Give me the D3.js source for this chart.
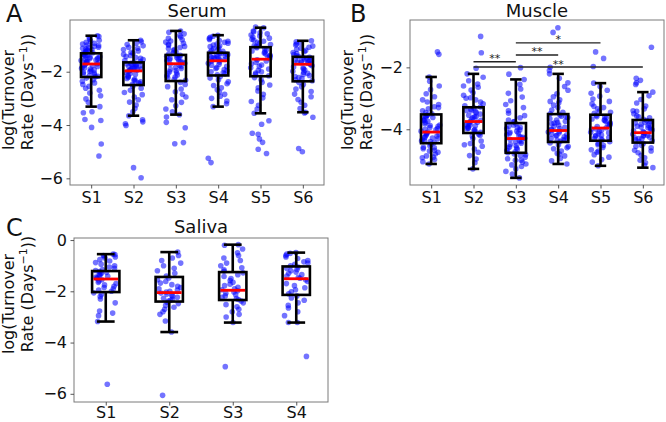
<!DOCTYPE html>
<html>
<head>
<meta charset="utf-8">
<script src="https://cdn.jsdelivr.net/npm/d3@7"></script>
<style>
  body { margin: 0; background: #fff; }
  svg { display: block; font-family: "DejaVu Sans", sans-serif; }
</style>
</head>
<body>
<script>
const width = 666;
const height = 422;

// ---------- Serum (A)
const serumCats = ["S1", "S2", "S3", "S4", "S5", "S6"];
const serumLo  = [-3.31, -3.65, -3.61, -3.31, -3.56, -3.52];
const serumQ1  = [-2.20, -2.50, -2.35, -2.14, -2.17, -2.36];
const serumMed = [-1.71, -1.97, -1.70, -1.59, -1.53, -1.72];
const serumQ3  = [-1.31, -1.65, -1.37, -1.29, -1.08, -1.44];
const serumHi  = [-0.65, -0.82, -0.47, -0.63, -0.35, -0.84];
const serumPts = [
  [-0.65,-0.68,-0.72,-0.78,-0.82,-0.86,-0.9,-0.93,-0.96,-1.0,-1.02,-1.05,-1.08,-1.1,-1.12,-1.15,-1.17,-1.2,-1.22,-1.25,-1.27,-1.29,
   -1.32,-1.34,-1.36,-1.38,-1.4,-1.42,-1.44,-1.46,-1.48,-1.5,-1.52,-1.54,-1.56,-1.58,-1.6,-1.62,-1.64,-1.66,-1.68,-1.7,
   -1.73,-1.76,-1.78,-1.8,-1.83,-1.86,-1.88,-1.9,-1.93,-1.96,-1.99,-2.02,-2.05,-2.08,-2.11,-2.14,-2.17,-2.19,
   -2.24,-2.3,-2.36,-2.42,-2.48,-2.55,-2.62,-2.7,-2.8,-2.9,-3.02,-3.15,-3.31,-3.5,-3.54,-3.79,-3.83,-4.09,-4.71,-5.16],
  [-0.82,-0.88,-0.93,-0.98,-1.03,-1.08,-1.12,-1.17,-1.22,-1.27,-1.31,-1.35,-1.39,-1.43,-1.47,-1.5,-1.54,-1.58,-1.62,
   -1.66,-1.68,-1.7,-1.72,-1.74,-1.76,-1.78,-1.8,-1.82,-1.84,-1.86,-1.88,-1.9,-1.92,-1.94,-1.96,
   -1.99,-2.03,-2.07,-2.1,-2.14,-2.18,-2.21,-2.25,-2.28,-2.32,-2.35,-2.38,-2.42,-2.45,-2.48,
   -2.55,-2.62,-2.7,-2.78,-2.86,-2.95,-3.05,-3.14,-3.25,-3.38,-3.5,-3.65,-3.8,-3.88,-3.95,-4.02,-5.6,-5.98],
  [-0.47,-0.52,-0.58,-0.64,-0.7,-0.75,-0.8,-0.85,-0.89,-0.93,-0.97,-1.01,-1.05,-1.09,-1.13,-1.17,-1.21,-1.25,-1.29,-1.33,
   -1.38,-1.4,-1.42,-1.45,-1.47,-1.5,-1.52,-1.55,-1.57,-1.6,-1.62,-1.65,-1.68,
   -1.72,-1.76,-1.8,-1.84,-1.88,-1.92,-1.96,-2.0,-2.04,-2.08,-2.12,-2.16,-2.2,-2.24,-2.28,-2.32,
   -2.4,-2.48,-2.56,-2.65,-2.75,-2.85,-2.95,-3.05,-3.15,-3.28,-3.4,-3.5,-3.61,-3.7,-3.9,-4.1,-4.66,-4.7],
  [-0.63,-0.67,-0.71,-0.75,-0.79,-0.83,-0.86,-0.9,-0.93,-0.96,-1.0,-1.03,-1.06,-1.1,-1.13,-1.16,-1.2,-1.23,-1.26,
   -1.3,-1.32,-1.34,-1.36,-1.38,-1.4,-1.42,-1.44,-1.46,-1.48,-1.5,-1.52,-1.54,-1.56,-1.58,
   -1.61,-1.64,-1.68,-1.72,-1.76,-1.8,-1.84,-1.88,-1.92,-1.96,-2.0,-2.04,-2.08,-2.12,
   -2.18,-2.24,-2.3,-2.38,-2.45,-2.52,-2.6,-2.68,-2.76,-2.85,-2.92,-3.0,-3.1,-3.2,-3.31,-5.25,-5.41],
  [-0.32,-0.35,-0.47,-0.5,-0.54,-0.58,-0.62,-0.66,-0.7,-0.74,-0.78,-0.82,-0.86,-0.9,-0.94,-0.98,-1.02,-1.06,
   -1.1,-1.14,-1.18,-1.22,-1.26,-1.3,-1.34,-1.38,-1.42,-1.46,-1.5,
   -1.55,-1.6,-1.65,-1.7,-1.75,-1.8,-1.85,-1.9,-1.95,-2.0,-2.05,-2.1,-2.15,
   -2.22,-2.3,-2.4,-2.5,-2.6,-2.72,-2.85,-2.98,-3.12,-3.26,-3.4,-3.56,-3.84,-3.97,-4.31,-4.35,-4.52,-4.65,-4.91,-5.07],
  [-0.84,-0.88,-0.92,-0.96,-1.0,-1.04,-1.08,-1.12,-1.16,-1.2,-1.24,-1.28,-1.32,-1.36,-1.4,-1.43,
   -1.46,-1.48,-1.5,-1.52,-1.54,-1.56,-1.58,-1.6,-1.62,-1.64,-1.66,-1.68,-1.7,
   -1.74,-1.78,-1.82,-1.86,-1.9,-1.94,-1.98,-2.02,-2.06,-2.1,-2.14,-2.18,-2.22,-2.26,-2.3,-2.34,
   -2.4,-2.48,-2.56,-2.65,-2.74,-2.84,-2.94,-3.04,-3.15,-3.26,-3.38,-3.52,-3.55,-3.71,-4.88,-5.0]
];

// ---------- Muscle (B)
const muscleCats = ["S1", "S2", "S3", "S4", "S5", "S6"];
const muscleLo  = [-5.12, -5.28, -5.57, -5.12, -5.18, -5.24];
const muscleQ1  = [-4.45, -4.12, -4.76, -4.41, -4.37, -4.43];
const muscleMed = [-4.09, -3.75, -4.30, -4.04, -3.96, -4.11];
const muscleQ3  = [-3.52, -3.29, -3.80, -3.51, -3.53, -3.70];
const muscleHi  = [-2.31, -2.21, -2.39, -2.21, -2.51, -2.80];
const musclePts = [
  [-1.5,-1.58,-2.31,-2.45,-2.6,-2.72,-2.85,-2.95,-3.05,-3.12,-3.2,-3.27,-3.3,-3.34,-3.4,-3.46,-3.5,
   -3.54,-3.55,-3.58,-3.6,-3.62,-3.66,-3.7,-3.72,-3.74,-3.78,-3.82,-3.86,-3.88,-3.9,-3.94,-3.98,-4.0,-4.02,-4.06,
   -4.1,-4.13,-4.15,-4.16,-4.19,-4.22,-4.25,-4.27,-4.28,-4.31,-4.34,-4.37,-4.38,-4.4,-4.43,
   -4.48,-4.53,-4.58,-4.6,-4.63,-4.68,-4.7,-4.74,-4.8,-4.86,-4.9,-4.92,-4.98,-5.05,-5.12],
  [-1.0,-1.53,-2.03,-2.21,-2.32,-2.43,-2.54,-2.6,-2.64,-2.73,-2.82,-2.9,-2.98,-3.0,-3.05,-3.12,-3.18,-3.24,-3.28,
   -3.31,-3.35,-3.39,-3.4,-3.43,-3.47,-3.51,-3.55,-3.59,-3.6,-3.63,-3.67,-3.71,-3.74,
   -3.77,-3.8,-3.83,-3.85,-3.86,-3.89,-3.92,-3.95,-3.97,-3.98,-4.01,-4.04,-4.07,-4.1,
   -4.16,-4.2,-4.22,-4.3,-4.38,-4.46,-4.5,-4.55,-4.64,-4.74,-4.85,-4.96,-5.08,-5.28],
  [-2.01,-2.22,-2.39,-2.55,-2.7,-2.84,-2.96,-3.08,-3.2,-3.3,-3.4,-3.48,-3.56,-3.63,-3.7,-3.75,-3.76,
   -3.82,-3.86,-3.9,-3.94,-3.95,-3.98,-4.02,-4.06,-4.1,-4.12,-4.14,-4.18,-4.22,-4.25,-4.26,-4.29,
   -4.33,-4.37,-4.4,-4.41,-4.45,-4.49,-4.53,-4.57,-4.6,-4.61,-4.65,-4.69,-4.73,-4.76,
   -4.8,-4.82,-4.85,-4.9,-4.95,-5.0,-5.0,-5.06,-5.12,-5.15,-5.2,-5.28,-5.36,-5.45,-5.57],
  [-0.72,-0.87,-2.0,-2.1,-2.21,-2.35,-2.5,-2.62,-2.74,-2.85,-2.95,-3.05,-3.1,-3.14,-3.22,-3.3,-3.38,-3.45,-3.5,
   -3.54,-3.58,-3.6,-3.62,-3.66,-3.7,-3.74,-3.78,-3.8,-3.82,-3.86,-3.9,-3.94,-3.98,-4.0,-4.02,
   -4.06,-4.09,-4.12,-4.15,-4.18,-4.2,-4.21,-4.24,-4.27,-4.3,-4.33,-4.35,-4.36,-4.39,
   -4.44,-4.5,-4.56,-4.6,-4.63,-4.7,-4.78,-4.8,-4.86,-4.94,-5.02,-5.12],
  [-1.5,-1.71,-1.97,-2.51,-2.62,-2.74,-2.84,-2.93,-3.02,-3.1,-3.18,-3.26,-3.3,-3.34,-3.41,-3.45,-3.48,
   -3.55,-3.59,-3.6,-3.63,-3.67,-3.7,-3.71,-3.75,-3.79,-3.83,-3.85,-3.87,-3.91,-3.95,
   -3.99,-4.0,-4.03,-4.07,-4.1,-4.11,-4.15,-4.19,-4.2,-4.23,-4.27,-4.3,-4.31,-4.35,
   -4.4,-4.46,-4.5,-4.52,-4.59,-4.66,-4.7,-4.74,-4.82,-4.9,-4.98,-5.06,-5.18],
  [-1.35,-2.35,-2.42,-2.5,-2.55,-2.8,-2.92,-3.04,-3.15,-3.25,-3.34,-3.4,-3.42,-3.5,-3.57,-3.6,-3.63,-3.68,
   -3.72,-3.75,-3.78,-3.8,-3.81,-3.84,-3.87,-3.9,-3.93,-3.95,-3.96,-3.99,-4.02,-4.05,-4.08,
   -4.1,-4.13,-4.16,-4.19,-4.2,-4.22,-4.25,-4.28,-4.3,-4.31,-4.34,-4.37,-4.4,
   -4.46,-4.52,-4.55,-4.6,-4.68,-4.7,-4.76,-4.84,-4.92,-5.0,-5.08,-5.16,-5.24]
];
// significance brackets (Muscle)
const sigFrom  = [2, 3, 3, 2];
const sigTo    = [3, 4, 5, 6];
const sigLevel = [-1.82, -1.60, -1.21, -1.99];
const sigText  = ["**", "**", "*", "**"];

// ---------- Saliva (C)
const salivaCats = ["S1", "S2", "S3", "S4"];
const salivaLo  = [-3.18, -3.59, -3.22, -3.22];
const salivaQ1  = [-2.03, -2.40, -2.34, -2.14];
const salivaMed = [-1.52, -2.05, -1.96, -1.51];
const salivaQ3  = [-1.21, -1.44, -1.25, -1.03];
const salivaHi  = [-0.55, -0.47, -0.18, -0.49];
const salivaPts = [
  [-0.55,-0.57,-0.6,-0.62,-0.66,-0.7,-0.76,-0.82,-0.88,-0.94,-1.0,-1.05,-1.1,-1.15,-1.19,
   -1.23,-1.26,-1.29,-1.32,-1.35,-1.38,-1.41,-1.44,-1.47,-1.5,
   -1.55,-1.6,-1.65,-1.7,-1.75,-1.8,-1.85,-1.9,-1.95,-2.0,
   -2.06,-2.12,-2.2,-2.3,-2.45,-2.77,-2.85,-2.95,-3.18,-5.63],
  [-0.47,-0.6,-0.7,-0.8,-0.9,-1.0,-1.1,-1.2,-1.3,-1.4,
   -1.48,-1.55,-1.62,-1.68,-1.74,-1.8,-1.85,-1.9,-1.95,-2.0,-2.03,
   -2.07,-2.11,-2.15,-2.19,-2.23,-2.27,-2.31,-2.35,-2.38,
   -2.43,-2.48,-2.55,-2.62,-2.7,-2.8,-2.9,-3.16,-3.59,-6.06],
  [-0.18,-0.2,-0.35,-0.5,-0.6,-0.7,-0.8,-0.9,-1.0,-1.08,-1.16,-1.22,
   -1.28,-1.35,-1.42,-1.5,-1.58,-1.65,-1.72,-1.78,-1.84,-1.9,-1.94,
   -1.98,-2.03,-2.08,-2.13,-2.18,-2.23,-2.28,-2.32,
   -2.38,-2.45,-2.52,-2.6,-2.7,-2.8,-2.9,-3.0,-3.22,-4.94],
  [-0.49,-0.52,-0.55,-0.6,-0.66,-0.72,-0.8,-0.85,-0.9,-0.95,-1.0,
   -1.05,-1.1,-1.15,-1.2,-1.25,-1.3,-1.35,-1.4,-1.45,-1.49,
   -1.55,-1.62,-1.7,-1.78,-1.86,-1.94,-2.02,-2.1,
   -2.18,-2.26,-2.35,-2.45,-2.55,-2.65,-2.8,-2.95,-3.22,-3.22,-4.54]
];

const panels = [
  { letter: "A", title: "Serum", cats: serumCats, pts: serumPts,
    lo: serumLo, q1: serumQ1, med: serumMed, q3: serumQ3, hi: serumHi,
    left: 70, right: 324, top: 20, bottom: 185, yDomain: [-6.25, -0.06], yTicks: [-6, -4, -2],
    boxW: 0.48, capW: 0.27, jitter: 0.24, letterX: 6, letterY: 21.5, titleY: 16.8, xPad: 3.5,
    labelX: [14, 33], labelY: [100, 92] },
  { letter: "B", title: "Muscle", cats: muscleCats, pts: musclePts,
    lo: muscleLo, q1: muscleQ1, med: muscleMed, q3: muscleQ3, hi: muscleHi,
    left: 410, right: 664, top: 20, bottom: 185, yDomain: [-5.8, -0.47], yTicks: [-4, -2],
    boxW: 0.48, capW: 0.27, jitter: 0.24, letterX: 350, letterY: 21.5, titleY: 16.8, xPad: 3.5,
    labelX: [353, 372], labelY: [100, 92], sig: true },
  { letter: "C", title: "Saliva", cats: salivaCats, pts: salivaPts,
    lo: salivaLo, q1: salivaQ1, med: salivaMed, q3: salivaQ3, hi: salivaHi,
    left: 74, right: 328, top: 238, bottom: 402, yDomain: [-6.32, 0.08], yTicks: [-6, -4, -2, 0],
    boxW: 0.43, capW: 0.28, jitter: 0.19, letterX: 6, letterY: 236, titleY: 233, xPad: 1.5,
    labelX: [14, 33], labelY: [304, 294] }
];

const svg = d3.select("body").append("svg")
  .attr("width", width)
  .attr("height", height);

// fixed-seed hash for the horizontal spread of the dots
function spread(i, gi) {
  const s = Math.sin(i * 12.9898 + gi * 78.233 + 1.7) * 43758.5453;
  return s - Math.floor(s) - 0.5;
}

function drawPanel(p) {
  const n = p.cats.length;
  const x = d3.scaleLinear().domain([0.5, n + 0.5]).range([p.left, p.right]);
  const y = d3.scaleLinear().domain(p.yDomain).range([p.bottom, p.top]);
  const g = svg.append("g");

  // jittered points
  p.pts.forEach((vals, gi) => {
    g.append("g").selectAll("circle")
      .data(vals)
      .enter().append("circle")
        .attr("cx", (d, i) => x(gi + 1 + spread(i, gi) * 2 * p.jitter))
        .attr("cy", d => y(d))
        .attr("r", 2.8)
        .attr("fill", "blue")
        .attr("opacity", 0.55);
  });

  // boxes
  const idx = d3.range(n);
  const bx = g.append("g").attr("fill", "none").attr("stroke", "black").attr("stroke-width", 2.6);
  bx.selectAll(".wl").data(idx).enter().append("line")
    .attr("x1", i => x(i + 1)).attr("x2", i => x(i + 1))
    .attr("y1", i => y(p.lo[i])).attr("y2", i => y(p.q1[i]));
  bx.selectAll(".wh").data(idx).enter().append("line")
    .attr("x1", i => x(i + 1)).attr("x2", i => x(i + 1))
    .attr("y1", i => y(p.hi[i])).attr("y2", i => y(p.q3[i]));
  bx.selectAll(".cl").data(idx).enter().append("line")
    .attr("x1", i => x(i + 1 - p.capW / 2)).attr("x2", i => x(i + 1 + p.capW / 2))
    .attr("y1", i => y(p.lo[i])).attr("y2", i => y(p.lo[i]));
  bx.selectAll(".ch").data(idx).enter().append("line")
    .attr("x1", i => x(i + 1 - p.capW / 2)).attr("x2", i => x(i + 1 + p.capW / 2))
    .attr("y1", i => y(p.hi[i])).attr("y2", i => y(p.hi[i]));
  bx.selectAll("rect").data(idx).enter().append("rect")
    .attr("x", i => x(i + 1 - p.boxW / 2))
    .attr("width", i => x(i + 1 + p.boxW / 2) - x(i + 1 - p.boxW / 2))
    .attr("y", i => y(p.q3[i]))
    .attr("height", i => y(p.q1[i]) - y(p.q3[i]));
  g.append("g").selectAll("line").data(idx).enter().append("line")
    .attr("x1", i => x(i + 1 - p.boxW / 2) + 1.3).attr("x2", i => x(i + 1 + p.boxW / 2) - 1.3)
    .attr("y1", i => y(p.med[i])).attr("y2", i => y(p.med[i]))
    .attr("stroke", "red").attr("stroke-width", 2.8);

  // significance brackets
  if (p.sig) {
    const sg = g.append("g");
    const k = sigFrom.map((d, i) => i);
    sg.selectAll("line").data(k).enter().append("line")
      .attr("x1", i => x(sigFrom[i])).attr("x2", i => x(sigTo[i]))
      .attr("y1", i => y(sigLevel[i])).attr("y2", i => y(sigLevel[i]))
      .attr("stroke", "#222").attr("stroke-width", 1.4);
    sg.selectAll("text").data(k).enter().append("text")
      .attr("x", i => x((sigFrom[i] + sigTo[i]) / 2))
      .attr("y", i => y(sigLevel[i]) + 0.5)
      .attr("text-anchor", "middle")
      .attr("font-size", 11)
      .attr("fill", "#222")
      .text(i => sigText[i]);
  }

  // frame
  g.append("rect")
    .attr("x", p.left).attr("y", p.top)
    .attr("width", p.right - p.left).attr("height", p.bottom - p.top)
    .attr("fill", "none").attr("stroke", "#7a7a7a").attr("stroke-width", 1);

  // axes
  const ya = g.append("g")
    .attr("transform", `translate(${p.left},0)`)
    .call(d3.axisLeft(y).tickValues(p.yTicks).tickSize(3.5).tickPadding(3.5)
      .tickFormat(d => d < 0 ? "\u2212" + Math.abs(d) : String(d)));
  const xa = g.append("g")
    .attr("transform", `translate(0,${p.bottom})`)
    .call(d3.axisBottom(x).tickValues(d3.range(1, n + 1)).tickSize(3.5).tickPadding(p.xPad)
      .tickFormat(d => p.cats[d - 1]));
  [ya, xa].forEach(a => {
    a.select(".domain").remove();
    a.selectAll("text").attr("font-size", 16).attr("fill", "#111")
      .attr("font-family", "DejaVu Sans, sans-serif");
    a.selectAll("line").attr("stroke", "#444").attr("stroke-width", 0.9);
  });

  // titles and labels
  svg.append("text")
    .attr("x", (p.left + p.right) / 2).attr("y", p.titleY)
    .attr("text-anchor", "middle").attr("font-size", 18).attr("fill", "#111")
    .text(p.title);
  svg.append("text")
    .attr("x", p.letterX).attr("y", p.letterY)
    .attr("font-size", 24).attr("fill", "#111")
    .text(p.letter);

  svg.append("text")
    .attr("transform", `translate(${p.labelX[0]},${p.labelY[0]}) rotate(-90)`)
    .attr("text-anchor", "middle").attr("font-size", 16).attr("fill", "#111")
    .text("log(Turnover");
  const l2 = svg.append("text")
    .attr("transform", `translate(${p.labelX[1]},${p.labelY[1]}) rotate(-90)`)
    .attr("text-anchor", "middle").attr("font-size", 16).attr("fill", "#111");
  l2.append("tspan").text("Rate (Days");
  l2.append("tspan").attr("font-size", 11).attr("dy", -6).text("\u22121");
  l2.append("tspan").attr("dy", 6).text("))");
}

panels.forEach(drawPanel);
</script>
</body>
</html>
